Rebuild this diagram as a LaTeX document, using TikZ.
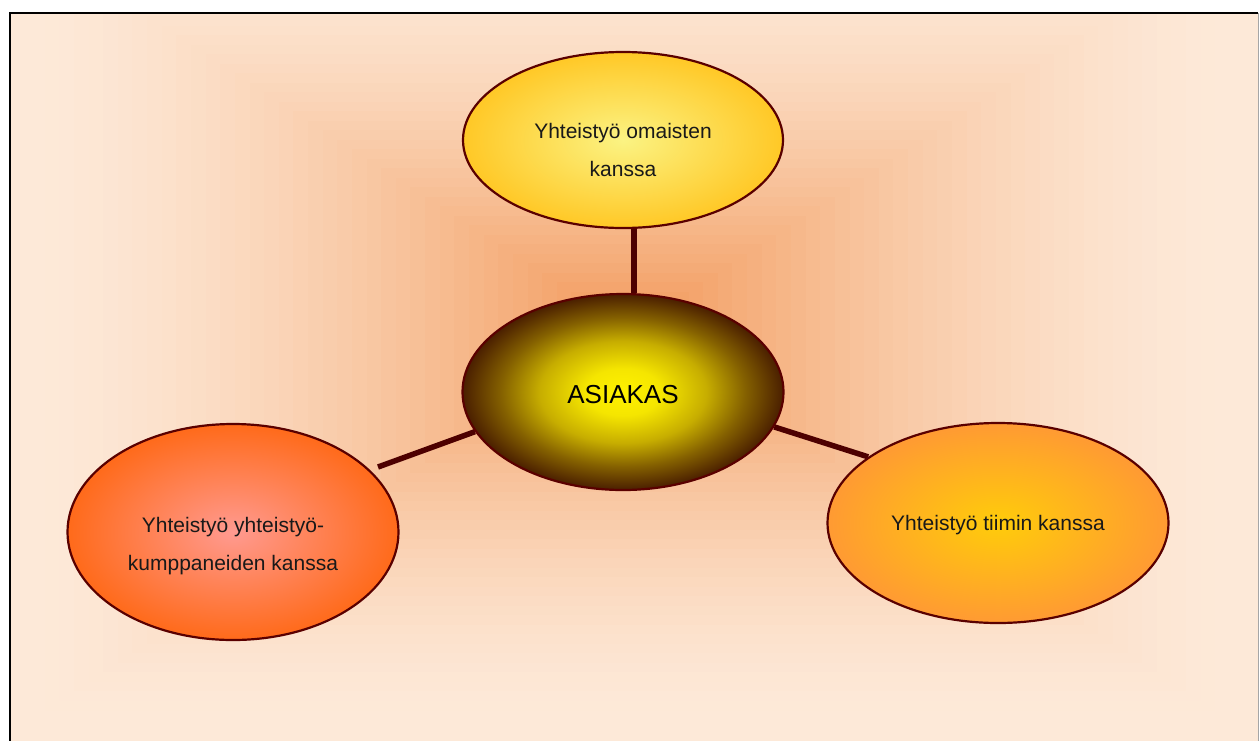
\documentclass[tikz,border=0pt]{standalone}
\usepackage{fontspec}
\setmainfont{Liberation Sans}
\usetikzlibrary{shapes.geometric,calc}
\pgfdeclarelayer{bg}
\pgfdeclarelayer{lines}
\pgfsetlayers{bg,lines,main}
\definecolor{peach}{HTML}{FDE9D8}
\definecolor{glow}{HTML}{F29A5C}
\definecolor{rim}{HTML}{5A0000}
\definecolor{conncol}{HTML}{4D0000}
\pgfdeclareradialshading{asiakasshade}{\pgfpoint{0bp}{0bp}}{%
  rgb(0bp)=(1,0.95,0);
  rgb(6bp)=(0.96,0.90,0);
  rgb(13bp)=(0.78,0.68,0);
  rgb(19bp)=(0.52,0.38,0);
  rgb(25bp)=(0.29,0.12,0);
  rgb(50bp)=(0.29,0.12,0)}
\tikzset{
  ell/.style={ellipse, draw=rim, line width=2.2pt, inner sep=0pt},
  small/.style={font=\fontsize{21}{38}\selectfont, align=center, inner sep=0pt, text=black!90},
  big/.style={font=\fontsize{26}{30}\selectfont, inner sep=0pt, text=black},
  conn/.style={draw=conncol, line width=5.5pt}
}
\begin{document}
\begin{tikzpicture}[x=1pt,y=-1pt]
\useasboundingbox (0,0) rectangle (1259,740);
% background
\begin{pgfonlayer}{bg}
\begin{scope}
\clip (10,13) rectangle (1258,741);
\fill[peach] (10,13) rectangle (1258,741);
\foreach \i in {1,...,40}{
  \pgfmathsetmacro\hw{600*(1-\i/41)}
  \pgfmathsetmacro\hh{390*(1-\i/41)}
  \pgfmathsetmacro\pct{100*(\i/40)^1.5}
  \fill[glow!\pct!peach] ({630-\hw},{330-\hh}) rectangle ({630+\hw},{330+\hh});
}
\end{scope}
\draw[black, line width=2pt] (10,741) -- (10,13) -- (1258,13);
\draw[gray!70, line width=1pt] (1258,13) -- (1258,741);
\end{pgfonlayer}
% ellipses
\node[ell, minimum width=320pt, minimum height=176pt, inner color={rgb,255:red,251;green,243;blue,131}, outer color={rgb,255:red,255;green,200;blue,38}] (top) at (623,140) {};
\node[ell, minimum width=321pt, minimum height=196pt, shading=asiakasshade] (asiakas) at (623,392) {};
\node[ell, minimum width=331pt, minimum height=216pt, inner color={rgb,255:red,255;green,154;blue,144}, outer color={rgb,255:red,255;green,106;blue,26}] (left) at (233,532) {};
\node[ell, minimum width=341pt, minimum height=200pt, inner color={rgb,255:red,255;green,204;blue,10}, outer color={rgb,255:red,255;green,154;blue,51}] (right) at (998,523) {};
% texts
\node[small] (toptext) at (623,150) {Yhteistyö omaisten\\kanssa};
\node[big] (asiakastext) at (623,395) {ASIAKAS};
\node[small] (lefttext) at (233,546) {Yhteistyö yhteistyö-\\kumppaneiden kanssa};
\node[small] (righttext) at (998,525) {Yhteistyö tiimin kanssa};
% connectors
\coordinate (leftend) at (378,467);
\begin{pgfonlayer}{lines}
\draw[conn] ($(top.south)+(11,0)$) -- ($(asiakas.north)+(11,0)$);
\draw[conn] (asiakas.195.7) -- (leftend);
\draw[conn] (asiakas.-13.3) -- (right.153.8);
\end{pgfonlayer}
\end{tikzpicture}
\end{document}
